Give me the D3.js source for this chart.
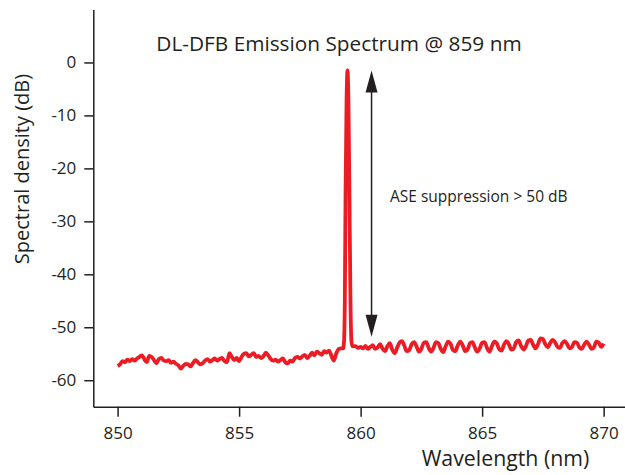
<!DOCTYPE html>
<html>
<head>
<meta charset="utf-8">
<script src="https://cdn.jsdelivr.net/npm/d3@7"></script>
<style>
  body { margin: 0; background: #fff; }
  text { font-family: "Open Sans", "Noto Sans", sans-serif; fill: #231f20; }
</style>
</head>
<body>
<div id="chartHolder"></div>
<script>
// spectrum, left of the line: 850.0 .. 859.2 nm, step 0.1 nm
var leftStart = 850.0;
var leftValues = [
  -57.3, -57.0, -56.4, -56.6, -56.1, -56.4, -56.0, -56.3, -55.9, -55.6,
  -55.3, -56.0, -56.6, -55.4, -55.6, -56.2, -56.8, -56.0, -55.8, -56.3,
  -56.4, -56.2, -56.7, -56.5, -56.9, -57.2, -57.8, -57.3, -56.9, -57.0,
  -57.4, -56.8, -56.2, -56.6, -57.0, -56.8, -56.3, -56.0, -56.5, -56.2,
  -55.9, -56.3, -56.0, -55.8, -56.4, -56.6, -54.9, -55.6, -56.2, -55.8,
  -56.4, -55.6, -55.0, -54.9, -55.5, -55.2, -54.9, -55.6, -55.4, -55.8,
  -55.5, -54.8, -55.3, -56.0, -56.3, -56.1, -56.5, -56.2, -55.9, -56.6,
  -56.8, -56.3, -56.5, -55.8, -55.6, -55.9, -55.5, -55.2, -55.8, -55.4,
  -54.8, -55.3, -54.6, -54.9, -55.2, -54.5, -54.8, -54.4, -55.4, -56.3,
  -54.9, -54.1, -54.0
];

// the DFB line itself (wavelength, dB)
var peakWavelengths = [859.28, 859.32, 859.35, 859.38, 859.42, 859.46, 859.50, 859.54, 859.58, 859.62, 859.66];
var peakValues      = [-54.0, -52.5, -45, -25, -8, -1.5, -8, -25, -44, -52.5, -53.6];

// spectrum, right of the line: 859.7 .. 870.0 nm, step 0.1 nm
var rightStart = 859.7;
var rightValues = [
  -53.5, -53.6, -53.9,
  -53.7, -54.0, -53.5, -54.1, -53.7, -53.4, -54.1, -53.8, -53.2, -54.0,
  -54.5, -53.6, -53.0, -54.2, -54.9, -53.9, -52.9, -52.6, -53.5, -54.5,
  -54.3, -53.2, -52.8, -53.6, -54.6, -54.1, -52.9, -52.8, -53.9, -54.6,
  -53.9, -52.8, -53.0, -54.1, -54.7, -53.6, -52.7, -53.1, -54.3, -54.5,
  -53.4, -52.7, -53.4, -54.5, -54.2, -53.0, -52.8, -53.8, -54.6, -54.0,
  -52.9, -52.8, -53.9, -54.6, -53.6, -52.7, -53.0, -54.1, -54.4, -53.3,
  -52.6, -53.2, -54.2, -54.0, -52.8, -52.5, -53.5, -54.2, -53.6, -52.5,
  -52.4, -53.3, -54.0, -53.2, -52.1, -52.2, -53.2, -53.8, -53.0, -52.4,
  -52.8, -53.7, -53.9, -53.0, -52.6, -53.2, -54.0, -53.7, -52.8, -52.9,
  -53.8, -54.1, -53.3, -52.7, -53.3, -54.1, -53.8, -52.7, -52.9, -53.7,
  -53.1
];
var stepNm = 0.1;

var xTicks = [850, 855, 860, 865, 870];
var yTicks = [0, -10, -20, -30, -40, -50, -60];

// annotation: ASE suppression arrow
var arrowNm = 860.45;
var arrowTop = -1.5;
var arrowBottom = -51.8;

var width = 625, height = 475;
var axisColor = "#231f20";
var lineColor = "#ed1c24";

var svg = d3.select("#chartHolder")
  .append("svg")
    .attr("width", width)
    .attr("height", height);

var xScale = d3.scaleLinear().domain([849, 870.9]).range([93.3, 625.5]);
var yScale = d3.scaleLinear().domain([-65, 10]).range([406.7, 9.5]);

// build the point list from the arrays
var points = [];
leftValues.forEach(function(v, i){ points.push([leftStart + i * stepNm, v]); });
peakValues.forEach(function(v, i){ points.push([peakWavelengths[i], v]); });
rightValues.forEach(function(v, i){ points.push([rightStart + i * stepNm, v]); });

var xAxis = svg.append("g")
  .attr("transform", "translate(0," + yScale(-65) + ")")
  .call(d3.axisBottom(xScale).tickValues(xTicks).tickSize(10).tickSizeOuter(0).tickPadding(10));

var yAxis = svg.append("g")
  .attr("transform", "translate(" + xScale(849) + ",0)")
  .call(d3.axisLeft(yScale).tickValues(yTicks).tickSize(9).tickSizeOuter(0).tickPadding(8)
    .tickFormat(function(d){ return d; }));

svg.selectAll(".domain, .tick line")
  .attr("stroke", axisColor)
  .attr("stroke-width", 1.5);
svg.selectAll(".tick text")
  .attr("font-size", 17)
  .attr("font-family", "Open Sans")
  .attr("fill", axisColor);

// the spectrum trace
svg.append("path")
  .datum(points)
  .attr("fill", "none")
  .attr("stroke", lineColor)
  .attr("stroke-width", 3.8)
  .attr("stroke-linejoin", "round")
  .attr("d", d3.line()
    .x(function(d){ return xScale(d[0]); })
    .y(function(d){ return yScale(d[1]); })
    .curve(d3.curveMonotoneX));

// double arrow
var ax = xScale(arrowNm);
var ay1 = yScale(arrowTop), ay2 = yScale(arrowBottom);
var headLen = 22, headHalf = 6;
svg.append("line")
  .attr("x1", ax).attr("x2", ax)
  .attr("y1", ay1 + headLen - 2).attr("y2", ay2 - headLen + 2)
  .attr("stroke", axisColor)
  .attr("stroke-width", 1.5);
svg.append("path")
  .attr("fill", axisColor)
  .attr("d", "M" + ax + "," + ay1 + "L" + (ax - headHalf) + "," + (ay1 + headLen) + "L" + (ax + headHalf) + "," + (ay1 + headLen) + "Z");
svg.append("path")
  .attr("fill", axisColor)
  .attr("d", "M" + ax + "," + ay2 + "L" + (ax - headHalf) + "," + (ay2 - headLen) + "L" + (ax + headHalf) + "," + (ay2 - headLen) + "Z");

svg.append("text")
  .attr("x", 390)
  .attr("y", 202)
  .attr("font-size", 15.5)
  .text("ASE suppression > 50 dB");

// title and axis labels
svg.append("text")
  .attr("x", 339)
  .attr("y", 51)
  .attr("text-anchor", "middle")
  .attr("font-size", 20.8)
  .text("DL-DFB Emission Spectrum @ 859 nm");

svg.append("text")
  .attr("x", 505.5)
  .attr("y", 465.5)
  .attr("text-anchor", "middle")
  .attr("font-size", 21.3)
  .text("Wavelength (nm)");

svg.append("text")
  .attr("transform", "translate(28.5,169) rotate(-90)")
  .attr("text-anchor", "middle")
  .attr("font-size", 20)
  .text("Spectral density (dB)");
</script>
</body>
</html>
